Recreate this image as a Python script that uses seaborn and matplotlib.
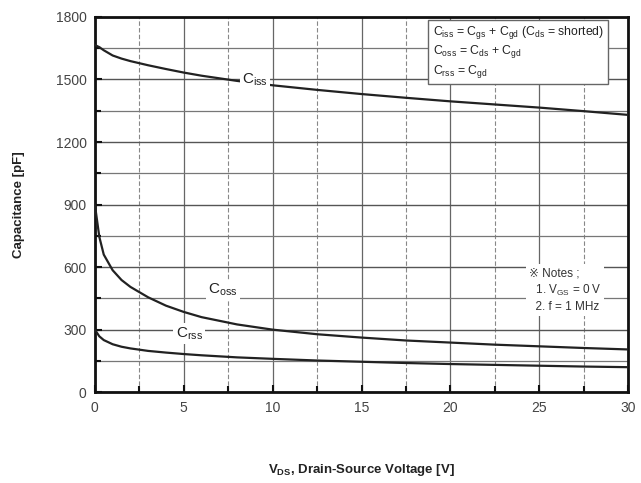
import matplotlib
matplotlib.use("Agg")
import matplotlib.pyplot as plt
import seaborn as sns
import pandas as pd
from matplotlib.ticker import MultipleLocator

# Drain-source voltage sweep [V]
vds = [0, 0.25, 0.5, 1, 1.5, 2, 3, 4, 5, 6, 8, 10, 12.5, 15, 17.5, 20, 22.5, 25, 27.5, 30]
# Capacitances [pF]
ciss = [1665, 1655, 1640, 1615, 1600, 1588, 1568, 1550, 1533, 1518, 1493, 1472, 1450, 1430, 1412, 1395, 1380, 1365, 1348, 1330]
coss = [900, 745, 660, 585, 538, 505, 455, 415, 385, 360, 325, 300, 278, 262, 248, 238, 228, 220, 212, 205]
crss = [300, 268, 250, 230, 218, 210, 198, 190, 183, 177, 167, 160, 152, 146, 140, 135, 131, 127, 123, 120]

y_ticks = [0, 300, 600, 900, 1200, 1500, 1800]
x_ticks = [0, 5, 10, 15, 20, 25, 30]

sns.set_style("white")
plt.rcParams["font.family"] = ["Liberation Sans", "DejaVu Sans"]

fig = plt.figure(figsize=(6.41, 4.83), dpi=100)
ax = fig.add_axes([0.148, 0.188, 0.832, 0.777])

df = pd.DataFrame({"vds": vds, "Ciss": ciss, "Coss": coss, "Crss": crss})
for col in ["Ciss", "Coss", "Crss"]:
    sns.lineplot(data=df, x="vds", y=col, ax=ax, color="#222222", linewidth=1.6, zorder=3)

ax.set_xlim(0, 30)
ax.set_ylim(0, 1800)
ax.set_xticks(x_ticks)
ax.set_yticks(y_ticks)
ax.xaxis.set_minor_locator(MultipleLocator(2.5))
ax.yaxis.set_minor_locator(MultipleLocator(150))

# grid
ax.grid(which="major", axis="y", color="#555555", linewidth=1.0, zorder=1)
ax.grid(which="minor", axis="y", color="#777777", linewidth=0.9, zorder=1)
ax.grid(which="major", axis="x", color="#666666", linewidth=0.9, zorder=1)
ax.grid(which="minor", axis="x", color="#888888", linewidth=0.8, linestyle=(0, (4, 2)), zorder=1)

for s in ax.spines.values():
    s.set_linewidth(2.0)
    s.set_color("#111111")

ax.tick_params(which="both", direction="in", colors="#111111", labelcolor="#444444",
               labelsize=10, width=1.5)
ax.tick_params(which="major", length=5, pad=6)
ax.tick_params(which="minor", length=4)
ax.tick_params(axis="y", which="both", left=True)
ax.tick_params(axis="x", which="both", bottom=True)

ax.set_xlabel(r"V$_{\mathregular{DS}}$, Drain-Source Voltage [V]", fontsize=9.5,
              fontweight="bold", color="#222222")
ax.xaxis.set_label_coords(0.5, -0.185)
ax.set_ylabel("Capacitance [pF]", fontsize=9.5, fontweight="bold", color="#222222", labelpad=22)

bbox_w = dict(facecolor="white", edgecolor="none", pad=1.5)
ax.text(9.0, 1500, r"C$_{\mathregular{iss}}$", fontsize=11, color="#222222",
        ha="center", va="center", bbox=bbox_w, zorder=4)
ax.text(7.2, 490, r"C$_{\mathregular{oss}}$", fontsize=11, color="#222222",
        ha="center", va="center", bbox=bbox_w, zorder=4)
ax.text(5.3, 280, r"C$_{\mathregular{rss}}$", fontsize=11, color="#222222",
        ha="center", va="center", bbox=bbox_w, zorder=4)

legend_txt = (r"C$_{\mathregular{iss}}$ = C$_{\mathregular{gs}}$ + C$_{\mathregular{gd}}$ (C$_{\mathregular{ds}}$ = shorted)" "\n"
              r"C$_{\mathregular{oss}}$ = C$_{\mathregular{ds}}$ + C$_{\mathregular{gd}}$" "\n"
              r"C$_{\mathregular{rss}}$ = C$_{\mathregular{gd}}$")
ax.text(19.0, 1765, legend_txt, fontsize=8.8, color="#222222", ha="left", va="top",
        linespacing=1.2, zorder=5,
        bbox=dict(facecolor="white", edgecolor="#666666", linewidth=1.0, boxstyle="square,pad=0.35"))

notes_txt = ("\u203b Notes ;\n"
             r"  1. V$_{\mathregular{GS}}$ = 0 V" "\n"
             "  2. f = 1 MHz")
ax.text(24.4, 600, notes_txt, fontsize=8.5, color="#333333", ha="left", va="top",
        linespacing=1.35, zorder=5, bbox=dict(facecolor="white", edgecolor="none", pad=2))

fig.savefig("out.png", dpi=100, facecolor="white")
